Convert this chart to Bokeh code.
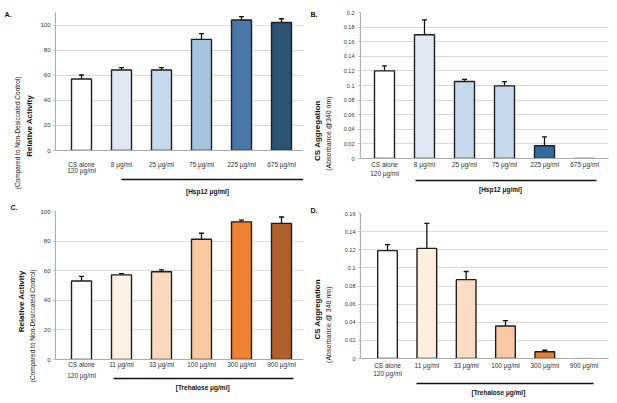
import math
import numpy as np
from bokeh.plotting import figure
from bokeh.models import (ColumnDataSource, Whisker, TeeHead, FixedTicker, LinearAxis, Range1d)
from bokeh.layouts import column, row
from bokeh.embed import file_html
from bokeh.resources import INLINE

# ---------------- data ----------------
positions = [1, 2, 3, 4, 5, 6]
hsp_labels = ["CS alone\n120 μg/ml", "8 μg/ml", "25 μg/ml", "75 μg/ml", "225 μg/ml", "675 μg/ml"]
tre_labels = ["CS alone\n120 μg/ml", "11 μg/ml", "33 μg/ml", "100 μg/ml", "300 μg/ml", "900 μg/ml"]

a_activity = [57, 64.2, 64.2, 88.6, 104, 102]
a_err = [3.2, 1.8, 1.8, 4.5, 2.7, 3.0]
b_aggregation = [0.12, 0.1695, 0.1055, 0.0995, 0.0175, 0.0]
b_err = [0.007, 0.0205, 0.003, 0.0058, 0.012, 0.0]
c_activity = [53, 57.2, 59.3, 81.3, 93, 92]
c_err = [3.2, 0.8, 1.3, 4.0, 1.2, 4.3]
d_aggregation = [0.119, 0.1215, 0.087, 0.0358, 0.0075, 0.0]
d_err = [0.0066, 0.0275, 0.009, 0.006, 0.0016, 0.0]

a_colors = ["#ffffff", "#dfe8f3", "#c6d8ec", "#a5c2de", "#4a78a6", "#2c5274"]
b_colors = ["#ffffff", "#dfe8f3", "#c6d8ec", "#c6d8ec", "#2f6b9e", "#2c5274"]
c_colors = ["#ffffff", "#fdf0e4", "#fbd9bf", "#f9c9a2", "#ef8132", "#b0602a"]
d_colors = ["#ffffff", "#fdeee0", "#fbdcc4", "#f9c9a6", "#ee7f2f", "#d9d9d9"]
d_outline = ["#1e1e1e", "#1e1e1e", "#1e1e1e", "#1e1e1e", "#1e1e1e", "#c8c8c8"]

act_ticks = [0, 20, 40, 60, 80, 100]
b_ticks = [0, 0.02, 0.04, 0.06, 0.08, 0.1, 0.12, 0.14, 0.16, 0.18, 0.2]
b_tick_labels = ["0", "0.02", "0.04", "0.06", "0.08", "0.1", "0.12", "0.14", "0.16", "0.18", "0.2"]
d_ticks = [0, 0.02, 0.04, 0.06, 0.08, 0.1, 0.12, 0.14, 0.16]
d_tick_labels = ["0", "0.02", "0.04", "0.06", "0.08", "0.1", "0.12", "0.14", "0.16"]

activity_title = "Relative Activity"
activity_sub = "(Compared to Non-Desiccated Control)"
aggr_title = "CS Aggregation"

FONT = "Liberation Sans"
INK = "#111111"


def extra_axis(p, side, ticks=(), labels=(), size="6.5px", bold=False, standoff=0,
               tick_out=0, line=None, line_width=1, bounds="auto", angle=None,
               color=INK, line_height=1.2):
    ax = LinearAxis(ticker=FixedTicker(ticks=list(ticks)),
                    major_label_overrides={k: v for k, v in zip(ticks, labels)},
                    major_label_text_font=FONT, major_label_text_font_size=size,
                    major_label_text_font_style="bold" if bold else "normal",
                    major_label_text_color=color, major_label_text_line_height=line_height,
                    major_label_standoff=standoff,
                    axis_line_color=line, axis_line_width=line_width,
                    major_tick_line_color=None, minor_tick_line_color=None,
                    major_tick_out=tick_out, major_tick_in=0, minor_tick_out=0, minor_tick_in=0,
                    bounds=bounds)
    if angle is not None:
        ax.major_label_orientation = angle
    p.add_layout(ax, side)
    return ax


def spacer(p, gap):
    # blank gap between the category labels and the bracket line
    extra_axis(p, "below", [3.5], [""], size="1px", tick_out=gap)


def make_panel(geom, values, errs, colors, outlines, xlabels, yticks, ytick_labels, yfont,
               ytick_out, ystand, xstand, x_line_height, ylabels, letter, letter_offset,
               letter_standoff, letter_valign):
    W, H, fl, fr, ft, fb, xr, yr = geom
    p = figure(width=W, height=H, x_range=Range1d(*xr), y_range=Range1d(*yr),
               output_backend="svg", toolbar_location=None,
               min_border_left=fl, min_border_right=W - fr,
               min_border_top=ft, min_border_bottom=H - fb)
    p.outline_line_color = None
    p.background_fill_color = "white"
    p.border_fill_color = "white"
    p.xgrid.grid_line_color = None
    p.ygrid.grid_line_color = "#d9d9d9"
    p.ygrid.grid_line_width = 1

    src = ColumnDataSource(dict(x=positions, top=values, color=colors, outline=outlines))
    p.vbar(x="x", top="top", width=0.5, bottom=0, source=src, fill_color="color",
           line_color="outline", line_width=1.4)

    ex = [x for x, e in zip(positions, errs) if e > 0]
    ev = [v for v, e in zip(values, errs) if e > 0]
    ee = [e for e in errs if e > 0]
    esrc = ColumnDataSource(dict(x=ex, upper=[v + e for v, e in zip(ev, ee)],
                                 lower=[v - e for v, e in zip(ev, ee)]))
    p.add_layout(Whisker(source=esrc, base="x", upper="upper", lower="lower",
                         line_color=INK, line_width=1.3,
                         upper_head=TeeHead(size=5, line_width=1.3, line_color=INK),
                         lower_head=TeeHead(size=5, line_width=1.3, line_color=INK)))

    # main x axis (category labels)
    xa = p.xaxis[0]
    xa.ticker = FixedTicker(ticks=positions)
    xa.major_label_overrides = {k: v for k, v in zip(positions, xlabels)}
    xa.axis_line_color = "#aaaaaa"
    xa.major_tick_line_color = None
    xa.minor_tick_line_color = None
    xa.major_tick_out = 0
    xa.major_tick_in = 0
    xa.minor_tick_out = 0
    xa.minor_tick_in = 0
    xa.major_label_standoff = xstand
    xa.major_label_text_font = FONT
    xa.major_label_text_font_size = "6.5px"
    xa.major_label_text_color = "#333333"
    xa.major_label_text_line_height = x_line_height

    # main y axis
    step = yticks[1] - yticks[0]
    minor = [float(t) for t in np.arange(yr[0], yr[1] + 1e-9, step / 5)]
    ya = p.yaxis[0]
    ya.ticker = FixedTicker(ticks=yticks, minor_ticks=minor)
    if ytick_labels is not None:
        ya.major_label_overrides = {k: v for k, v in zip(yticks, ytick_labels)}
    ya.axis_line_color = "#aaaaaa"
    ya.major_tick_line_color = "#aaaaaa"
    ya.minor_tick_line_color = "#c4c4c4"
    ya.major_tick_out = ytick_out
    ya.major_tick_in = 0
    ya.minor_tick_out = 1
    ya.minor_tick_in = 0
    ya.major_label_standoff = ystand
    ya.major_label_text_font = FONT
    ya.major_label_text_font_size = yfont
    ya.major_label_text_color = "#333333"

    # rotated y titles (inner first), centred on a data position
    for text, centre, size, bold, standoff in ylabels:
        extra_axis(p, "left", [centre], [text], size=size, bold=bold, standoff=standoff,
                   angle=math.pi / 2)

    # panel letter
    p.title.text = letter
    p.title.align = "left"
    p.title.offset = letter_offset
    p.title.standoff = letter_standoff
    p.title.vertical_align = letter_valign
    p.title.text_font = FONT
    p.title.text_font_size = "7px"
    p.title.text_font_style = "bold"
    p.title.text_color = INK
    return p


# geometry: width, height, frame left, right, top, bottom (figure pixels), x range, y range
geom_a = (303, 198, 55, 303, 12, 150, (0.35, 6.55), (0, 110))
geom_b = (313, 198, 57, 305, 12, 158, (0.4, 6.6), (0, 0.2))
geom_c = (303, 204, 55, 303, 13, 161, (0.35, 6.55), (0, 100))
geom_d = (313, 204, 57, 305, 15, 160, (0.313, 6.62), (0, 0.16))

# ---- A ----
pA = make_panel(geom_a, a_activity, a_err, a_colors, ["#1e1e1e"] * 6, hsp_labels,
                act_ticks, None, "6px", 2, 3, 10, 0.95,
                [(activity_title, 44.2, "8px", True, 8),
                 (activity_sub, 44.2, "6.5px", False, 0)],
                "A.", -51, -10, "bottom")
spacer(pA, 2)
extra_axis(pA, "below", [4.15], ["[Hsp12 μg/ml]"], bold=True, standoff=8,
           line=INK, line_width=1.6, bounds=(2.0, 6.55))              # bracket line + label

# ---- B ----
pB = make_panel(geom_b, b_aggregation, b_err, b_colors, ["#1e1e1e"] * 6, hsp_labels,
                b_ticks, b_tick_labels, "5.5px", 2, 4, 2, 1.4,
                [("(Absorbance @340 nm)", 0.085, "7px", False, 12),
                 (aggr_title, 0.0795, "8px", True, 1)],
                "B.", -50, -10, "bottom")
extra_axis(pB, "below", [3.9], ["[Hsp12 μg/ml]"], bold=True, standoff=5,
           line=INK, line_width=1.6, bounds=(1.775, 6.3))

# ---- C ----
c_first = tre_labels[0].split("\n")
pC = make_panel(geom_c, c_activity, c_err, c_colors, ["#1e1e1e"] * 6,
                [c_first[0]] + tre_labels[1:],
                act_ticks, None, "6px", 2, 3, 1, 1.2,
                [(activity_sub, 60.8, "6.5px", False, 5),
                 (activity_title, 60.1, "8px", True, 1)],
                "C.", -45, 0, "middle")
spacer(pC, 8)
extra_axis(pC, "below", line=INK, line_width=1.6, bounds=(1.8, 6.3))
extra_axis(pC, "below", [1], [c_first[1]], color="#333333", standoff=-7)
extra_axis(pC, "below", [4.03], ["[Trehalose μg/ml]"], bold=True, standoff=2)

# ---- D ----
pD = make_panel(geom_d, d_aggregation, d_err, d_colors, d_outline, tre_labels,
                d_ticks, d_tick_labels, "5.5px", 2, 3, 3, 1.2,
                [("(Absorbance @ 340 nm)", 0.0794, "7px", False, 13),
                 (aggr_title, 0.0876, "8px", True, 1)],
                "D.", -50, -1, "bottom")
spacer(pD, 4)
extra_axis(pD, "below", [3.82], ["[Trehalose μg/ml]"], bold=True, standoff=5,
           line=INK, line_width=1.6, bounds=(1.74, 6.24))

layout = row(column(pA, pC), column(pB, pD))
open("out.html", "w").write(file_html(layout, INLINE))
